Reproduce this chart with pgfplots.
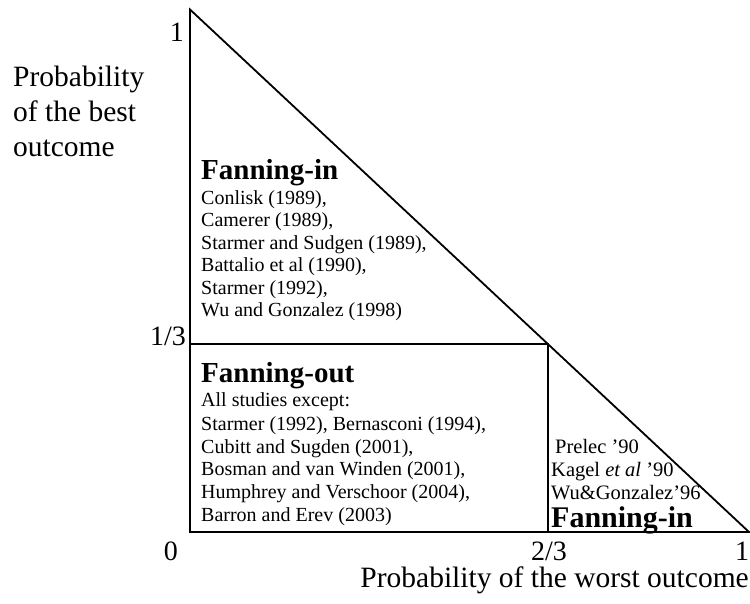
\documentclass[border=0pt]{standalone}
\usepackage{pgfplots}
\pgfplotsset{compat=1.18}
\usepackage{fontspec}
\setmainfont{Liberation Serif}
\newcommand{\lst}{\fontsize{20}{22.5}\selectfont}
\newcommand{\lsr}{\fontsize{20.5}{22.5}\selectfont}
\newcommand{\ttl}{\fontsize{29}{30}\selectfont\bfseries}
\newcommand{\ttr}{\fontsize{30}{31}\selectfont\bfseries}
\newcommand{\tck}{\fontsize{28}{30}\selectfont}
\newcommand{\lbl}{\fontsize{29.5}{35}\selectfont}
\begin{document}
\begin{tikzpicture}[x=1pt,y=1pt]
\path[use as bounding box] (-190,-71) rectangle (560,532);
\begin{axis}[at={(0pt,0pt)}, anchor=south west, scale only axis,
  width=559pt, height=522.5pt, xmin=0, xmax=1, ymin=0, ymax=1,
  axis lines=none, clip=false]
\addplot[black, line width=1.8pt, line join=miter] coordinates {(0,1) (0,0) (1,0)} -- cycle;
\addplot[black, line width=1.8pt, line join=miter] coordinates {(0,0.36) (0.64,0.36) (0.64,0)};
\end{axis}
% tick labels
\node[anchor=base, inner sep=0] at (-19,-28) {\tck 0};
\node[anchor=base, inner sep=0] at (359,-28) {\tck 2/3};
\node[anchor=base, inner sep=0] at (552,-28) {\tck 1};
\node[anchor=base, inner sep=0] at (-13,490) {\tck 1};
\node[anchor=base east, inner sep=0] at (-4,186) {\tck 1/3};
% axis labels
\node[anchor=base east, inner sep=0] at (559,-55) {\lbl Probability of the worst outcome};
\node[anchor=base west, inner sep=0] at (-177,445) {\lbl Probability};
\node[anchor=base west, inner sep=0] at (-177,410) {\lbl of the best};
\node[anchor=base west, inner sep=0] at (-177,375) {\lbl outcome};
% top region
\node[anchor=base west, inner sep=0] at (11,352.5) {\ttl Fanning-in};
\node[anchor=base west, inner sep=0] at (11,327.5) {\lst Conlisk (1989),};
\node[anchor=base west, inner sep=0] at (11,305) {\lst Camerer (1989),};
\node[anchor=base west, inner sep=0] at (11,282.5) {\lst Starmer and Sudgen (1989),};
\node[anchor=base west, inner sep=0] at (11,260) {\lst Battalio et al (1990),};
\node[anchor=base west, inner sep=0] at (11,237.5) {\lst Starmer (1992),};
\node[anchor=base west, inner sep=0] at (11,215) {\lst Wu and Gonzalez (1998)};
% bottom-left region
\node[anchor=base west, inner sep=0] at (11,149) {\ttl Fanning-out};
\node[anchor=base west, inner sep=0] at (11,125) {\lst All studies except:};
\node[anchor=base west, inner sep=0] at (11,102) {\lst Starmer (1992), Bernasconi (1994),};
\node[anchor=base west, inner sep=0] at (11,79) {\lst Cubitt and Sugden (2001),};
\node[anchor=base west, inner sep=0] at (11,56.5) {\lst Bosman and van Winden (2001),};
\node[anchor=base west, inner sep=0] at (11,34) {\lst Humphrey and Verschoor (2004),};
\node[anchor=base west, inner sep=0] at (11,11) {\lst Barron and Erev (2003)};
% bottom-right region
\node[anchor=base west, inner sep=0] at (365,78) {\lsr Prelec ’90};
\node[anchor=base west, inner sep=0] at (361,55.5) {\lsr Kagel \textit{et al} ’90};
\node[anchor=base west, inner sep=0] at (361,33) {\lsr Wu\&Gonzalez’96};
\node[anchor=base west, inner sep=0] at (361,5) {\ttr Fanning-in};
\end{tikzpicture}
\end{document}
